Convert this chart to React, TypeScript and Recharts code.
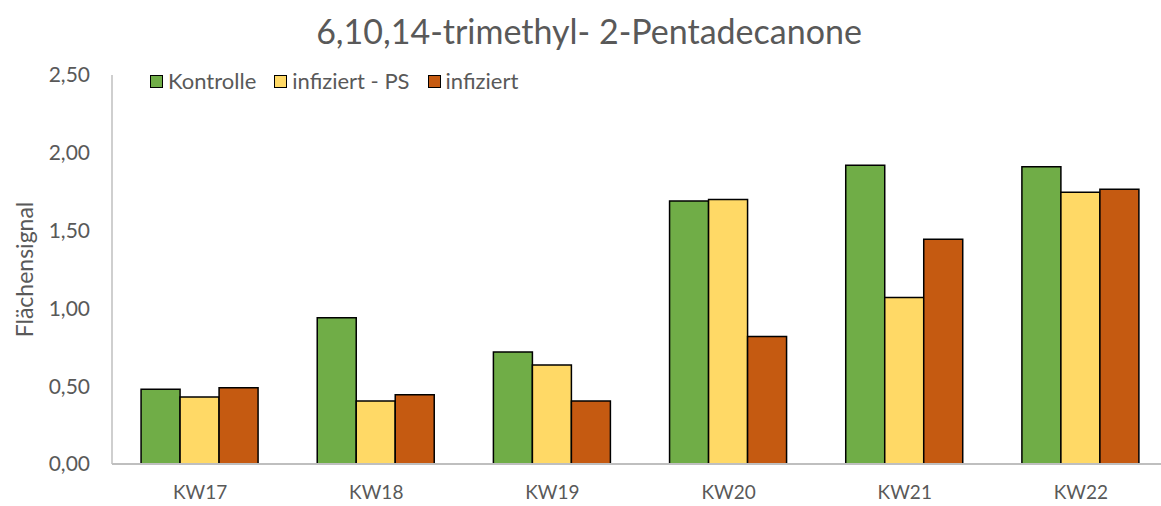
import React from "react";
import { BarChart, Bar, XAxis, YAxis, Label } from "recharts";

const weeks = ["KW17", "KW18", "KW19", "KW20", "KW21", "KW22"];
const kontrolle = [0.48, 0.94, 0.72, 1.69, 1.92, 1.91];
const infiziertPS = [0.43, 0.405, 0.636, 1.7, 1.07, 1.746];
const infiziert = [0.49, 0.445, 0.405, 0.82, 1.444, 1.765];
const yTicks = [0, 0.5, 1, 1.5, 2, 2.5];

const data = weeks.map((w, i) => ({
  week: w,
  kontrolle: kontrolle[i],
  infiziertPS: infiziertPS[i],
  infiziert: infiziert[i],
}));

const series = [
  { key: "kontrolle", name: "Kontrolle", color: "#70AD47" },
  { key: "infiziertPS", name: "infiziert - PS", color: "#FFD966" },
  { key: "infiziert", name: "infiziert", color: "#C55A11" },
];

const font = "Lato, 'Open Sans', sans-serif";
const grey = "#595959";

// legend drawn as overlay so it doesn't eat plot space
const LegendBox = () => (
  <div
    style={{
      position: "absolute",
      left: 150,
      top: 68,
      display: "flex",
      fontFamily: font,
      fontSize: 22,
      color: grey,
      lineHeight: "26px",
    }}
  >
    {series.map((s) => (
      <div key={s.key} style={{ display: "flex", alignItems: "center", marginRight: 18 }}>
        <span
          style={{
            width: 11,
            height: 11,
            background: s.color,
            border: "1.5px solid #000",
            marginRight: 5,
            display: "inline-block",
          }}
        />
        {s.name}
      </div>
    ))}
  </div>
);

const fmt = (v: number) => v.toFixed(2).replace(".", ",");

const YLabel = (props: any) => {
  const vb = props.viewBox || { x: 0, y: 75, height: 389 };
  const cx = 24;
  const cy = vb.y + vb.height / 2;
  return (
    <text
      x={cx}
      y={cy}
      transform={`rotate(-90, ${cx}, ${cy})`}
      textAnchor="middle"
      dominantBaseline="central"
      fill={grey}
      fontSize={23}
      fontFamily={font}
    >
      Flächensignal
    </text>
  );
};

export default function App() {
  return (
    <div
      style={{
        position: "absolute",
        left: 0,
        top: 0,
        width: 1161,
        height: 506,
        overflow: "hidden",
        background: "#fff",
      }}
    >
      <div
        style={{
          position: "absolute",
          top: 10,
          left: 0,
          width: 1178,
          textAlign: "center",
          fontFamily: font,
          fontSize: 34,
          color: grey,
        }}
      >
        6,10,14-trimethyl- 2-Pentadecanone
      </div>
      <BarChart
        width={1169}
        height={506}
        data={data}
        margin={{ top: 75, right: 0, bottom: 0, left: 0 }}
        barCategoryGap="16.5%"
        barGap={0}
      >
        <XAxis
          dataKey="week"
          axisLine={{ stroke: "#BFBFBF", strokeWidth: 2 }}
          tickLine={false}
          tickSize={0}
          tickMargin={22}
          tick={{ fill: grey, fontSize: 19, fontFamily: font }}
          height={42}
        />
        <YAxis
          domain={[0, 2.5]}
          ticks={yTicks}
          interval={0}
          tickFormatter={fmt}
          axisLine={{ stroke: "#BFBFBF", strokeWidth: 1.5 }}
          tickLine={false}
          tickSize={0}
          tickMargin={22}
          width={112}
          tick={{ fill: grey, fontSize: 21, fontFamily: font }}
        >
          <Label content={<YLabel />} />
        </YAxis>
        {series.map((s) => (
          <Bar
            key={s.key}
            dataKey={s.key}
            name={s.name}
            fill={s.color}
            stroke="#000"
            strokeWidth={1.5}
            isAnimationActive={false}
          />
        ))}
      </BarChart>
      <LegendBox />
    </div>
  );
}
